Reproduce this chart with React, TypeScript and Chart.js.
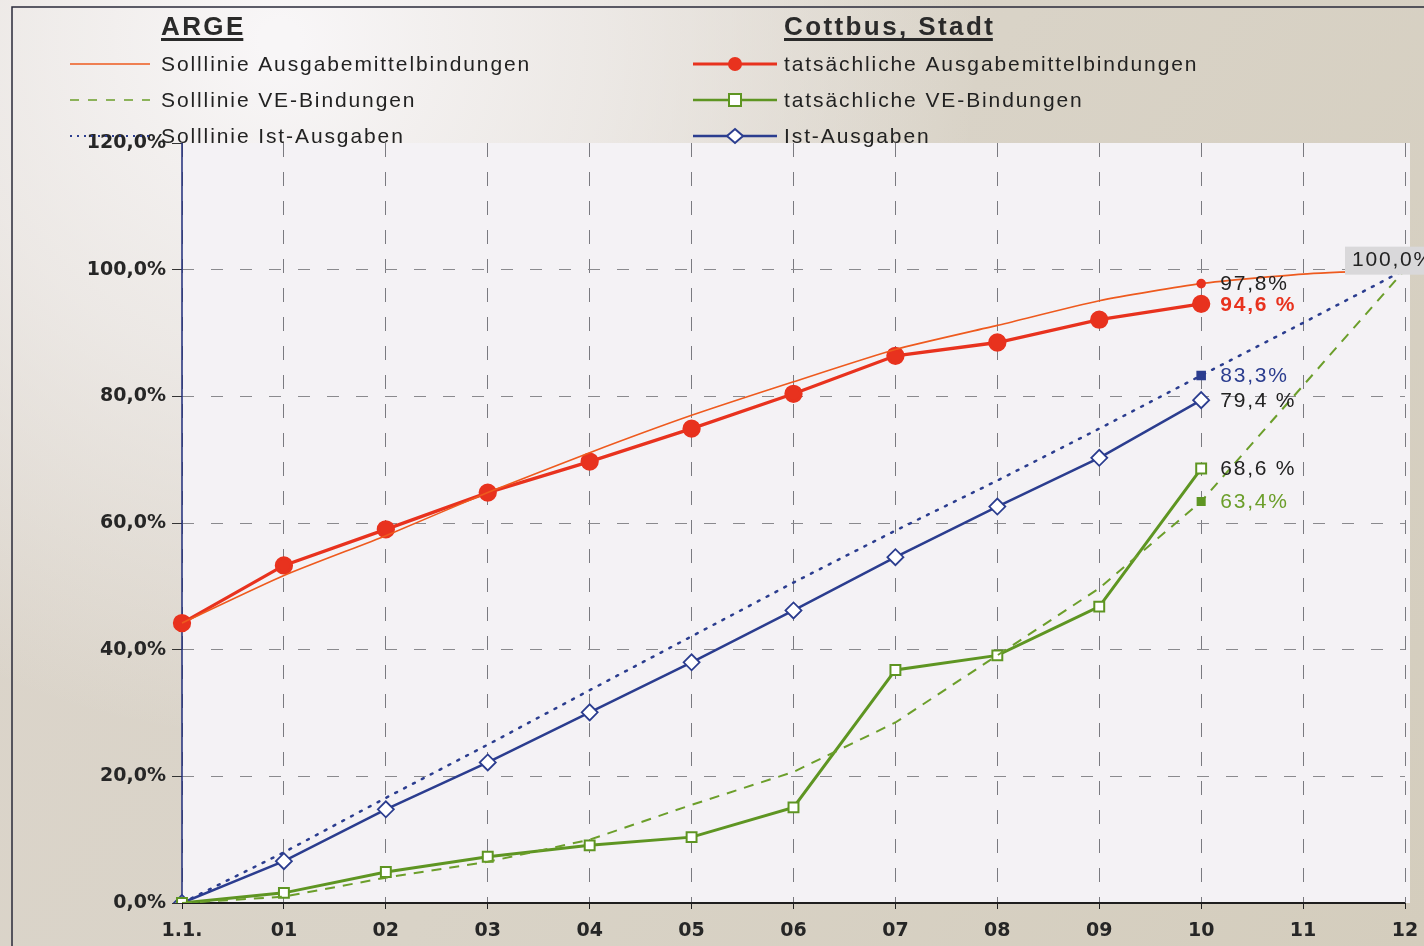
import React, { useEffect, useRef } from "react";
import { Chart, registerables } from "chart.js";

Chart.register(...registerables);

const categories = ["1.1.", "01", "02", "03", "04", "05", "06", "07", "08", "09", "10", "11", "12"];
const sollAusgabemittel = [44.2, 51.7, 58.0, 64.8, 71.1, 77.0, 82.3, 87.4, 91.2, 95.1, 97.8, 99.3, 100];
const istAusgabemittel = [44.2, 53.3, 59.0, 64.8, 69.7, 74.9, 80.4, 86.4, 88.5, 92.1, 94.6, null, null];
const sollVE = [0, 1.0, 4.0, 6.5, 10.0, 15.5, 20.7, 28.5, 39.1, 49.7, 63.4, 81.7, 100];
const istVE = [0, 1.6, 4.9, 7.3, 9.1, 10.4, 15.1, 36.8, 39.1, 46.8, 68.6, null, null];
const sollIstAusgaben = [0, 8.0, 16.6, 25.0, 33.6, 42.1, 50.6, 58.8, 66.7, 74.9, 83.3, 91.6, 100];
const istAusgaben = [0, 6.6, 14.8, 22.2, 30.1, 38.0, 46.2, 54.6, 62.6, 70.3, 79.4, null, null];
const yTicks = [0, 20, 40, 60, 80, 100, 120];

const endIndex = 10;
const endLabels = [
  { text: "97,8%", value: 97.8, color: "#222222", bold: false },
  { text: "94,6 %", value: 94.6, color: "#e8321e", bold: true },
  { text: "83,3%", value: 83.3, color: "#2b3d8f", bold: false },
  { text: "79,4 %", value: 79.4, color: "#222222", bold: false },
  { text: "68,6 %", value: 68.6, color: "#222222", bold: false },
  { text: "63,4%", value: 63.4, color: "#6b9e2a", bold: false },
];
const finalLabel = "100,0%";

const leftTitle = "ARGE";
const rightTitle = "Cottbus, Stadt";
const legendLeft = ["Solllinie Ausgabemittelbindungen", "Solllinie VE-Bindungen", "Solllinie Ist-Ausgaben"];
const legendRight = ["tatsächliche Ausgabemittelbindungen", "tatsächliche VE-Bindungen", "Ist-Ausgaben"];

const ORANGE = "#ee5a1e";
const RED = "#e8321e";
const GREEN = "#6b9e2a";
const GREEN_D = "#5e9522";
const NAVY = "#2b3d8f";

const FONT = "'Liberation Sans', Arial, sans-serif";
const HEAVY = "'DejaVu Sans', sans-serif";

function onlyAt(idx: number, r: number) {
  return categories.map((_, i) => (i === idx ? r : 0));
}

const bgPlugin = {
  id: "bg",
  beforeDraw(chart: any) {
    const { ctx, width, height, chartArea } = chart;
    ctx.save();
    const g = ctx.createLinearGradient(0, 0, width, height);
    g.addColorStop(0, "#dcd5cc");
    g.addColorStop(0.5, "#d9d3c7");
    g.addColorStop(1, "#d4cdbd");
    ctx.fillStyle = g;
    ctx.fillRect(0, 0, width, height);
    const rg = ctx.createRadialGradient(280, 40, 20, 280, 40, 700);
    rg.addColorStop(0, "rgba(248,246,247,1)");
    rg.addColorStop(0.45, "rgba(242,239,238,0.75)");
    rg.addColorStop(1, "rgba(242,239,238,0)");
    ctx.fillStyle = rg;
    ctx.fillRect(0, 0, width, height);
    // plot area
    ctx.fillStyle = "#f4f2f5";
    ctx.fillRect(chartArea.left, chartArea.top, chartArea.right + 5 - chartArea.left, chartArea.bottom - chartArea.top);
    // frame
    ctx.strokeStyle = "#2a2a3a";
    ctx.lineWidth = 1.5;
    ctx.beginPath();
    ctx.moveTo(12, height);
    ctx.lineTo(12, 7);
    ctx.lineTo(width, 7);
    ctx.stroke();
    ctx.restore();
  },
  beforeDatasetsDraw(chart: any) {
    const { ctx, chartArea } = chart;
    ctx.save();
    ctx.setLineDash([]);
    ctx.lineWidth = 1.5;
    ctx.strokeStyle = "#1f2d7a";
    ctx.beginPath();
    ctx.moveTo(chartArea.left, chartArea.top);
    ctx.lineTo(chartArea.left, chartArea.bottom);
    ctx.stroke();
    ctx.lineWidth = 2;
    ctx.strokeStyle = "#1e1e1e";
    ctx.beginPath();
    ctx.moveTo(chartArea.left, chartArea.bottom);
    ctx.lineTo(chartArea.right, chartArea.bottom);
    ctx.stroke();
    ctx.restore();
  },
};

function drawMarker(ctx: any, type: string, x: number, y: number, color: string) {
  ctx.save();
  ctx.lineWidth = 2;
  ctx.strokeStyle = color;
  if (type === "circle") {
    ctx.fillStyle = color;
    ctx.beginPath();
    ctx.arc(x, y, 7, 0, Math.PI * 2);
    ctx.fill();
  } else if (type === "square") {
    ctx.fillStyle = "#ffffff";
    ctx.fillRect(x - 6, y - 6, 12, 12);
    ctx.strokeRect(x - 6, y - 6, 12, 12);
  } else if (type === "diamond") {
    ctx.fillStyle = "#ffffff";
    ctx.beginPath();
    ctx.moveTo(x, y - 7);
    ctx.lineTo(x + 8, y);
    ctx.lineTo(x, y + 7);
    ctx.lineTo(x - 8, y);
    ctx.closePath();
    ctx.fill();
    ctx.stroke();
  }
  ctx.restore();
}

const legendPlugin = {
  id: "customLegend",
  afterDraw(chart: any) {
    const { ctx } = chart;
    ctx.save();
    ctx.textBaseline = "alphabetic";
    ctx.fillStyle = "#2a2a2a";
    ctx.font = `bold 26px ${FONT}`;
    ctx.letterSpacing = "2.4px";
    ctx.fillText(leftTitle, 161, 35);
    let w = ctx.measureText(leftTitle).width - 2.4;
    ctx.fillRect(161, 38, w, 3);
    ctx.fillText(rightTitle, 784, 35);
    w = ctx.measureText(rightTitle).width - 2.4;
    ctx.fillRect(784, 38, w, 3);

    const rows = [64, 100, 136];
    ctx.font = `21px ${FONT}`;
    ctx.letterSpacing = "1.9px";
    ctx.fillStyle = "#222222";
    legendLeft.forEach((t, i) => ctx.fillText(t, 161, rows[i] + 7));
    legendRight.forEach((t, i) => ctx.fillText(t, 784, rows[i] + 7));
    ctx.letterSpacing = "0px";

    // left lines
    ctx.lineWidth = 1.5;
    ctx.strokeStyle = ORANGE;
    ctx.beginPath();
    ctx.moveTo(70, rows[0]);
    ctx.lineTo(150, rows[0]);
    ctx.stroke();
    ctx.strokeStyle = GREEN;
    ctx.setLineDash([9, 9]);
    ctx.beginPath();
    ctx.moveTo(70, rows[1]);
    ctx.lineTo(150, rows[1]);
    ctx.stroke();
    ctx.strokeStyle = NAVY;
    ctx.lineWidth = 2;
    ctx.setLineDash([2, 5]);
    ctx.beginPath();
    ctx.moveTo(70, rows[2]);
    ctx.lineTo(150, rows[2]);
    ctx.stroke();
    ctx.setLineDash([]);

    // right lines
    const rl = [
      { c: RED, m: "circle", lw: 3 },
      { c: GREEN_D, m: "square", lw: 2.5 },
      { c: NAVY, m: "diamond", lw: 2.5 },
    ];
    rl.forEach((r, i) => {
      ctx.strokeStyle = r.c;
      ctx.lineWidth = r.lw;
      ctx.beginPath();
      ctx.moveTo(693, rows[i]);
      ctx.lineTo(777, rows[i]);
      ctx.stroke();
      drawMarker(ctx, r.m, 735, rows[i], r.c);
    });

    // end labels
    const xs = chart.scales.x;
    const ys = chart.scales.y;
    const px = xs.getPixelForValue(endIndex);
    ctx.letterSpacing = "1.8px";
    endLabels.forEach((l) => {
      ctx.font = `${l.bold ? "bold " : ""}21px ${FONT}`;
      ctx.fillStyle = l.color;
      ctx.textBaseline = "middle";
      ctx.fillText(l.text, px + 19, ys.getPixelForValue(l.value) + 1);
    });
    // 100% label with box
    const fx = xs.getPixelForValue(categories.length - 1);
    const fy = ys.getPixelForValue(100);
    ctx.font = `21px ${FONT}`;
    ctx.fillStyle = "#d9d8da";
    ctx.fillRect(fx - 60, fy - 23, 80, 28);
    ctx.fillStyle = "#222222";
    ctx.textBaseline = "middle";
    ctx.fillText(finalLabel, fx - 53, fy - 9);
    ctx.restore();
  },
};

export default function App() {
  const ref = useRef<HTMLCanvasElement | null>(null);
  useEffect(() => {
    if (!ref.current) return;
    const chart = new Chart(ref.current, {
      type: "line",
      data: {
        labels: categories,
        datasets: [
          {
            label: legendLeft[0],
            data: sollAusgabemittel,
            borderColor: ORANGE,
            borderWidth: 1.6,
            pointRadius: onlyAt(endIndex, 4),
            pointBackgroundColor: RED,
            pointBorderColor: RED,
            tension: 0.2,
          },
          {
            label: legendRight[0],
            data: istAusgabemittel,
            borderColor: RED,
            borderWidth: 3.3,
            pointStyle: "circle",
            pointRadius: 7.5,
            pointBackgroundColor: RED,
            pointBorderColor: RED,
          },
          {
            label: legendLeft[1],
            data: sollVE,
            borderColor: GREEN,
            borderWidth: 2,
            borderDash: [10, 8],
            pointStyle: "rect",
            pointRadius: onlyAt(endIndex, 5),
            pointBackgroundColor: GREEN_D,
            pointBorderColor: GREEN_D,
          },
          {
            label: legendRight[1],
            data: istVE,
            borderColor: GREEN_D,
            borderWidth: 3,
            pointStyle: "rect",
            pointRadius: 7,
            pointBorderWidth: 2,
            pointBackgroundColor: "#ffffff",
            pointBorderColor: GREEN_D,
          },
          {
            label: legendLeft[2],
            data: sollIstAusgaben,
            borderColor: NAVY,
            borderWidth: 2.5,
            borderDash: [2, 8],
            borderCapStyle: "round",
            pointStyle: "rect",
            pointRadius: onlyAt(endIndex, 5),
            pointBackgroundColor: NAVY,
            pointBorderColor: NAVY,
          },
          {
            label: legendRight[2],
            data: istAusgaben,
            borderColor: NAVY,
            borderWidth: 2.5,
            pointStyle: "rectRot",
            pointRadius: 8,
            pointBorderWidth: 1.8,
            pointBackgroundColor: "#ffffff",
            pointBorderColor: NAVY,
          },
        ],
      },
      options: {
        animation: false,
        responsive: false,
        devicePixelRatio: 1,
        layout: { padding: { left: 0, top: 143, right: 19, bottom: 0 } },
        plugins: { legend: { display: false }, tooltip: { enabled: false } },
        scales: {
          x: {
            type: "category",
            offset: false,
            afterFit: (s: any) => {
              s.height = 43;
              s.paddingRight = 0;
              s.paddingLeft = 0;
            },
            grid: {
              color: "#7a7a80",
              lineWidth: 1,
              drawTicks: true,
              tickLength: 6,
              tickColor: "#222",
              tickBorderDash: [],
            },
            border: { display: false, dash: [14, 15] },
            ticks: {
              color: "#262626",
              font: { family: HEAVY, size: 19, weight: "bold" },
              padding: 11,
              maxRotation: 0,
              autoSkip: false,
            },
          },
          y: {
            min: 0,
            max: 120,
            afterFit: (s: any) => {
              s.width = 182;
            },
            afterBuildTicks: (s: any) => {
              s.ticks = yTicks.map((v) => ({ value: v }));
            },
            grid: {
              color: (c: any) => (c.tick && c.tick.value === 120 ? "rgba(0,0,0,0)" : "#8a8a8e"),
              lineWidth: 1,
              tickLength: 10,
              tickColor: "#333",
              tickBorderDash: [],
            },
            border: { display: false, dash: [12, 17] },
            ticks: {
              color: "#262626",
              font: { family: HEAVY, size: 19, weight: "bold" },
              padding: 6,
              callback: (v: any) => Number(v).toFixed(1).replace(".", ",") + "%",
            },
          },
        },
      } as any,
      plugins: [bgPlugin, legendPlugin],
    });
    return () => chart.destroy();
  }, []);
  return (
    <div style={{ position: "fixed", left: 0, top: 0, width: 1424, height: 946 }}>
      <canvas ref={ref} width={1424} height={946} style={{ display: "block" }} />
    </div>
  );
}
